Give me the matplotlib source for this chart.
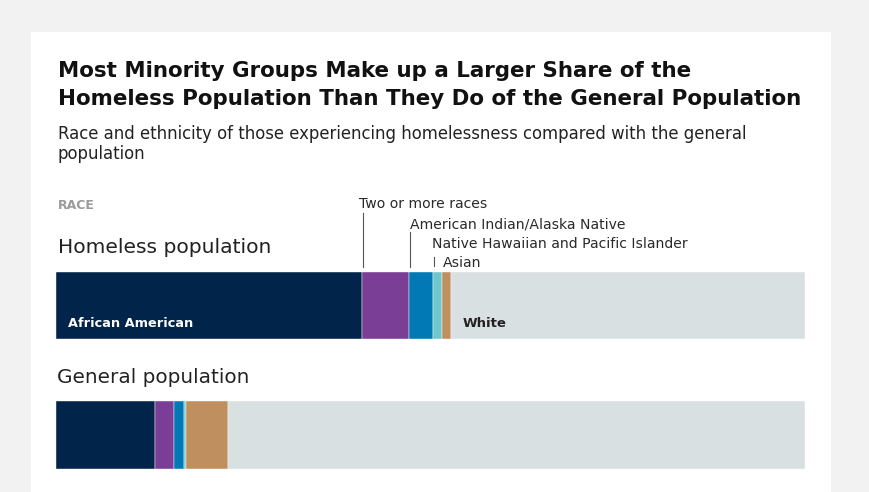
import matplotlib.pyplot as plt
from matplotlib.patches import Rectangle
import numpy as np

plt.rcParams['font.family'] = ['DejaVu Sans']

races = ["African American", "Two or more races", "American Indian/Alaska Native",
         "Native Hawaiian and Pacific Islander", "Asian", "White"]
homeless = [40.9, 6.3, 3.1, 1.3, 1.2, 47.2]
general = [13.2, 2.6, 1.3, 0.2, 5.7, 77.0]
colors = ["#00244a", "#7a3e97", "#0079b5", "#70c7c9", "#bf8f5f", "#d9e0e2"]

W, H = 870, 492
fig = plt.figure(figsize=(W / 100, H / 100), dpi=100)
fig.patch.set_facecolor("#f2f2f2")

# white card
fig.patches.append(Rectangle((31 / W, 0), 800 / W, 1 - 32 / H,
                             transform=fig.transFigure, facecolor="white",
                             edgecolor="none", zorder=-1))


def fy(px):
    return 1 - px / H


fig.text(58 / W, fy(77), "Most Minority Groups Make up a Larger Share of the",
         fontsize=15.4, fontweight="bold", color="#111111")
fig.text(58 / W, fy(105), "Homeless Population Than They Do of the General Population",
         fontsize=15.4, fontweight="bold", color="#111111")
fig.text(58 / W, fy(139), "Race and ethnicity of those experiencing homelessness compared with the general",
         fontsize=11.9, color="#222222")
fig.text(58 / W, fy(159), "population", fontsize=11.9, color="#222222")
fig.text(58 / W, fy(209), "RACE", fontsize=9, fontweight="bold", color="#9a9a9a")
fig.text(58 / W, fy(253), "Homeless population", fontsize=14.6, color="#222222")
fig.text(57 / W, fy(383), "General population", fontsize=14.4, color="#222222")

# bar axes: x in percent, y in pixel rows
ax = fig.add_axes([56 / W, 0, 748.7 / W, 1])
ax.set_xlim(0, 100)
ax.set_ylim(H, 0)
ax.axis("off")

rows = [(homeless, 305.7), (general, 435.0)]
for vals, yc in rows:
    left = np.concatenate([[0], np.cumsum(vals)[:-1]])
    ax.barh(yc, vals, left=left, height=67.3, color=colors,
            edgecolor="white", linewidth=0.3)

px = 100 / 748.7
hl = np.concatenate([[0], np.cumsum(homeless)[:-1]])

ax.text(hl[0] + 12 * px, 327, races[0], color="white", fontsize=9.3,
        fontweight="bold", va="baseline")
ax.text(hl[5] + 11 * px, 327, races[5], color="#222222", fontsize=9.5,
        fontweight="bold", va="baseline")

# leader labels
lab_style = dict(fontsize=10.1, color="#2a2a2a", va="baseline")
ax.text(hl[1] - 3 * px, 208.3, races[1], **lab_style)
ax.plot([hl[1] + 1 * px] * 2, [213, 267], color="#555555", lw=0.8)
ax.text(hl[2] + 1 * px, 228.3, races[2], **lab_style)
ax.plot([hl[2] + 1 * px] * 2, [232, 267], color="#555555", lw=0.8)
ax.text(hl[3] - 1 * px, 248.3, races[3], **lab_style)
ax.plot([hl[3] + 1.7 * px] * 2, [257, 266], color="#555555", lw=0.8)
ax.text(hl[4] + 0.5 * px, 267.3, races[4], **lab_style)

fig.savefig("out.png", dpi=100, facecolor=fig.get_facecolor())
